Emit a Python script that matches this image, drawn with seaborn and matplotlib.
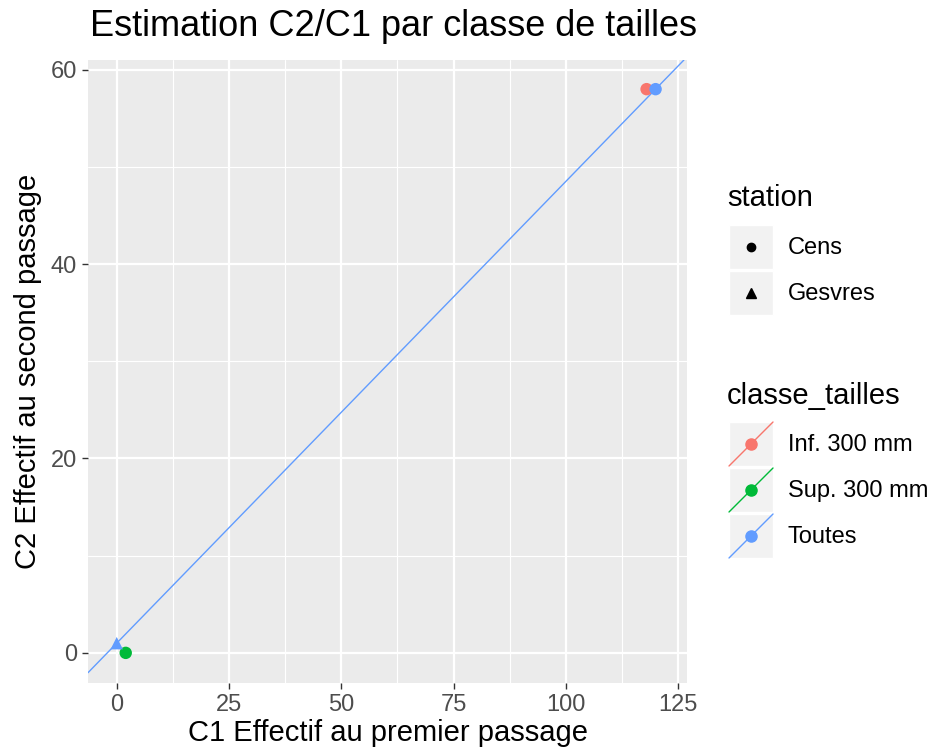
import pandas as pd
import matplotlib.pyplot as plt
import seaborn as sns
from matplotlib.ticker import MultipleLocator
from matplotlib.patches import Rectangle

# donnees
c1 = [118, 2, 120, 0]
c2 = [58, 0, 58, 1]
classe_tailles = ['Inf. 300 mm', 'Sup. 300 mm', 'Toutes', 'Toutes']
station = ['Cens', 'Cens', 'Cens', 'Gesvres']

classes = ['Inf. 300 mm', 'Sup. 300 mm', 'Toutes']
stations = ['Cens', 'Gesvres']
couleurs = ['#F8766D', '#00BA38', '#619CFF']

# droite C2 = a + b*C1 (toutes tailles)
droite_intercept = 1.0
droite_pente = 0.475

df = pd.DataFrame({'C1': c1, 'C2': c2, 'classe_tailles': classe_tailles, 'station': station})

sns.set_theme(style='darkgrid', rc={'axes.facecolor': '#EBEBEB',
                                    'grid.color': 'white',
                                    'text.color': 'black',
                                    'axes.labelcolor': 'black'})
plt.rcParams['font.family'] = ['Liberation Sans', 'DejaVu Sans']

fig = plt.figure(figsize=(9.39, 7.55), dpi=100)
ax = fig.add_axes([88 / 939, 72 / 755, 599 / 939, 623 / 755])

palette = dict(zip(classes, couleurs))
ax.axline((0, droite_intercept), slope=droite_pente, color=palette['Toutes'], lw=1.0, zorder=2)
sns.scatterplot(data=df, x='C1', y='C2', hue='classe_tailles', style='station',
                palette=palette, markers={'Cens': 'o', 'Gesvres': '^'},
                s=80, linewidth=0, legend=False, ax=ax, zorder=3)

ax.set_xlim(-6.4, 127)
ax.set_ylim(-3.1, 61)
ax.xaxis.set_major_locator(MultipleLocator(25))
ax.xaxis.set_minor_locator(MultipleLocator(12.5))
ax.yaxis.set_major_locator(MultipleLocator(20))
ax.yaxis.set_minor_locator(MultipleLocator(10))
ax.grid(which='major', color='white', lw=1.6)
ax.grid(which='minor', color='white', lw=0.8)
ax.tick_params(which='major', length=4, width=1, color='#333333', labelsize=17,
               labelcolor='#4D4D4D', pad=4, bottom=True, left=True)
ax.tick_params(which='minor', length=0)
for s in ax.spines.values():
    s.set_visible(False)

ax.set_xlabel('C1 Effectif au premier passage', fontsize=21, color='black', labelpad=2)
ax.set_ylabel('C2 Effectif au second passage', fontsize=21, color='black', labelpad=6)
fig.text(90 / 939, 1 - 27 / 755, 'Estimation C2/C1 par classe de tailles',
         fontsize=26, ha='left', va='center', color='black')

# legendes (style ggplot) dessinees a la main
lax = fig.add_axes([0, 0, 1, 1])
lax.set_xlim(0, 939)
lax.set_ylim(755, 0)
lax.axis('off')

lax.text(727, 198, 'station', fontsize=21, ha='left', va='center')
key_y = 225
for st, mk in zip(stations, ['o', '^']):
    lax.add_patch(Rectangle((729, key_y), 44, 44, facecolor='#F2F2F2', edgecolor='white', lw=1))
    lax.plot([751], [key_y + 22], marker=mk, color='black', ms=6 if mk == 'o' else 6.5, ls='')
    lax.text(788, key_y + 23, st, fontsize=17, ha='left', va='center')
    key_y += 46

lax.text(727, 396, 'classe_tailles', fontsize=21, ha='left', va='center')
key_y = 422
for cl, col in zip(classes, couleurs):
    lax.add_patch(Rectangle((729, key_y), 44, 44, facecolor='#F2F2F2', edgecolor='white', lw=1))
    lax.plot([729, 773], [key_y + 44, key_y], color=col, lw=1.0)
    lax.plot([751], [key_y + 22], marker='o', color=col, ms=8, ls='')
    lax.text(788, key_y + 23, cl, fontsize=17, ha='left', va='center')
    key_y += 46

fig.savefig('out.png', dpi=100)
